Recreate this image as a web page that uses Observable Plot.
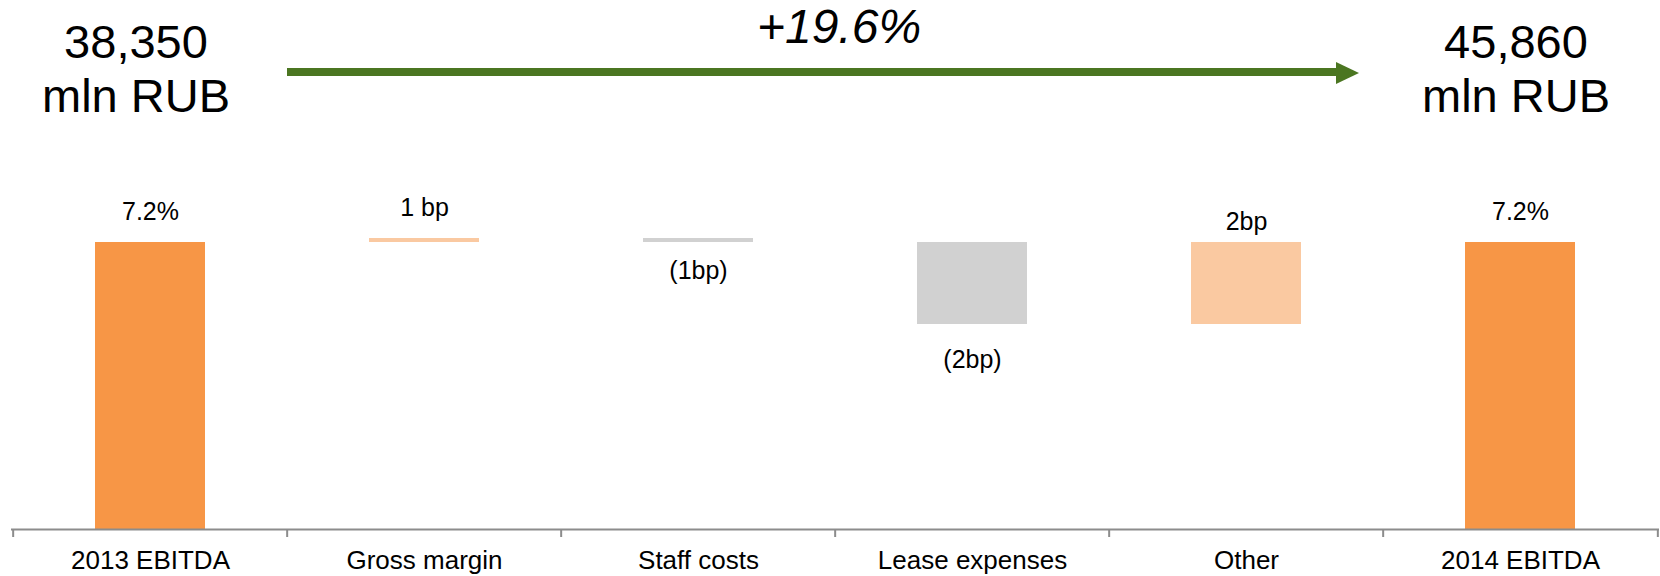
<!DOCTYPE html>
<html>
<head>
<meta charset="utf-8">
<script src="https://cdn.jsdelivr.net/npm/d3@7"></script>
<script src="https://cdn.jsdelivr.net/npm/@observablehq/plot@0.6"></script>
<style>
  body { margin: 0; background: #fff; font-family: "Liberation Sans", Arial, sans-serif; color: #000; }
  #wrap { position: relative; width: 1660px; }
  #head { position: relative; height: 180px; }
  .total { position: absolute; top: 15px; width: 300px; text-align: center; font-size: 47px; line-height: 54px; }
  #growth { position: absolute; top: 3px; left: 689px; width: 300px; text-align: center; font-size: 48px; line-height: 48px; font-style: italic; }
  #shaft { position: absolute; left: 287px; top: 68px; width: 1050px; height: 8px; background: #4b7621; }
  #tip { position: absolute; left: 1336px; top: 62px; width: 0; height: 0;
         border-top: 11.5px solid transparent; border-bottom: 11.5px solid transparent; border-left: 23px solid #4b7621; }
</style>
</head>
<body>
<div id="wrap">
  <div id="head">
    <div class="total" id="t2013" style="left:-14px"></div>
    <div id="shaft"></div>
    <div id="tip"></div>
    <div id="growth"></div>
    <div class="total" id="t2014" style="left:1366px"></div>
  </div>
  <div id="chart"></div>
</div>
<script>
// EBITDA margin bridge, 2013 -> 2014
const categories = ["2013 EBITDA", "Gross margin", "Staff costs", "Lease expenses", "Other", "2014 EBITDA"];
const ebitdaMlnRub = [38350, 45860];          // 2013, 2014 EBITDA, mln RUB
const marginStartBp = 720;                    // 2013 EBITDA margin, bp (7.2%)
const marginEndBp = 720;                      // 2014 EBITDA margin, bp (7.2%)
const changesBp = [1, -1, -2, 2];             // gross margin, staff, lease, other
const valueLabels = ["7.2%", "1 bp", "(1bp)", "(2bp)", "2bp", "7.2%"];

// Headline figures
const fmtInt = d3.format(",");
document.getElementById("t2013").innerHTML = fmtInt(ebitdaMlnRub[0]) + "<br>mln RUB";
document.getElementById("t2014").innerHTML = fmtInt(ebitdaMlnRub[1]) + "<br>mln RUB";
document.getElementById("growth").textContent = d3.format("+.1%")(ebitdaMlnRub[1] / ebitdaMlnRub[0] - 1);

// Waterfall rows
const rows = [];
let level = marginStartBp;
rows.push({category: categories[0], y1: 0, y2: marginStartBp, kind: "total", label: valueLabels[0], i: 0});
changesBp.forEach((c, j) => {
  rows.push({category: categories[j + 1], y1: level, y2: level + c, kind: c >= 0 ? "up" : "down", label: valueLabels[j + 1], i: j + 1});
  level += c;
});
rows.push({category: categories[5], y1: 0, y2: marginEndBp, kind: "total", label: valueLabels[5], i: 5});

const colors = {total: "#f79646", up: "#fac9a1", down: "#d1d1d1"};

const width = 1660, height = 396, marginLeft = 11, marginRight = 1, marginBottom = 47;
const step = (width - marginLeft - marginRight) / categories.length;

// Piecewise y: the bridge steps are drawn enlarged relative to the totals
const yDomain = Array.from(new Set(rows.flatMap(d => [d.y1, d.y2]))).sort(d3.ascending);
const yRange = [349, 144, 62, 58];

const axisStyle = {stroke: "#8c8c8c", strokeWidth: 2};
const upperEnd = d => Math.max(d.y1, d.y2);
const lowerEnd = d => Math.min(d.y1, d.y2);

const plot = Plot.plot({
  width, height,
  marginTop: 0, marginLeft, marginRight, marginBottom,
  style: {fontFamily: '"Liberation Sans", Arial, sans-serif', fontSize: "26px", background: "white", color: "black", overflow: "visible"},
  x: {type: "band", domain: categories, paddingInner: 0.6, paddingOuter: 0.3, label: null},
  y: {type: "linear", domain: yDomain, range: yRange, axis: null},
  marks: [
    Plot.barY(rows, {x: "category", y1: "y1", y2: "y2", fill: d => colors[d.kind]}),
    // labels above totals and increases
    Plot.text(rows.filter(d => d.kind === "total" || (d.kind === "up" && d.i < 4)), {
      x: "category", y: upperEnd, text: "label", lineAnchor: "bottom", dy: -23, fontSize: 25, fill: "black"
    }),
    Plot.text(rows.filter(d => d.kind === "up" && d.i >= 4), {
      x: "category", y: upperEnd, text: "label", lineAnchor: "bottom", dy: -13, fontSize: 25, fill: "black"
    }),
    // labels below decreases
    Plot.text(rows.filter(d => d.kind === "down" && d.i < 3), {
      x: "category", y: lowerEnd, text: "label", lineAnchor: "bottom", dy: 36, fontSize: 25, fill: "black"
    }),
    Plot.text(rows.filter(d => d.kind === "down" && d.i >= 3), {
      x: "category", y: lowerEnd, text: "label", lineAnchor: "bottom", dy: 43, fontSize: 25, fill: "black"
    }),
    Plot.ruleY([0], axisStyle),
    Plot.axisX(categories, {tickSize: 8, tickFormat: () => "", dx: -step / 2, ...axisStyle}),
    Plot.axisX([categories[categories.length - 1]], {tickSize: 8, tickFormat: () => "", dx: step / 2, ...axisStyle}),
    Plot.axisX({tickSize: 0, tickPadding: 21, fontSize: 26, fill: "black"})
  ]
});
document.getElementById("chart").appendChild(plot);
</script>
</body>
</html>
